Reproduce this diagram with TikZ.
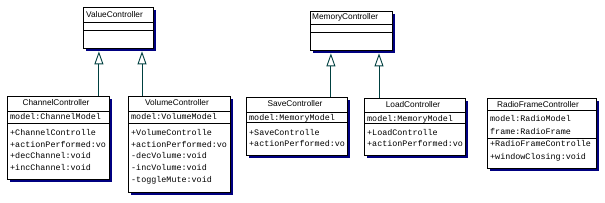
\documentclass[tikz,border=0pt]{standalone}
\usepackage{fontspec}
\setmainfont{Liberation Sans}
\setmonofont{Liberation Mono}
\usetikzlibrary{arrows.meta,shadows}
\definecolor{shadowblue}{RGB}{0,0,128}
\definecolor{linkteal}{RGB}{0,64,64}

\begin{document}
\begin{tikzpicture}[
    x=1pt, y=-1pt,
    cls/.style={draw, fill=white, line width=0.9pt, anchor=north west, inner sep=0pt,
      drop shadow={shadow xshift=2.5pt, shadow yshift=-2.5pt, fill=shadowblue, opacity=1}},
    title/.style={font=\fontsize{8.3}{10}\selectfont, inner sep=0pt, anchor=base},
    member/.style={font=\ttfamily\fontsize{8.4}{11.8}\selectfont, align=left, inner sep=0pt, anchor=base west},
    members/.style={member, anchor=north west},
    divider/.style={line width=0.9pt},
    inherit/.style={draw=linkteal, line width=0.9pt, -{Triangle[open, length=13pt, width=9pt]}, shorten >=2.5pt}
  ]
  \useasboundingbox (0,0) rectangle (605,203);

  % abstract controllers
  \node[cls, minimum width=70pt, minimum height=41pt] (value) at (83,7) {};
  \draw[divider] ([yshift=-15pt]value.north west) -- ([yshift=-15pt]value.north east);
  \draw[divider] ([yshift=-23pt]value.north west) -- ([yshift=-23pt]value.north east);
  \node[title, anchor=base west] (valuename) at (86,18) {ValueController};

  \node[cls, minimum width=82pt, minimum height=39pt] (memory) at (310,11) {};
  \draw[divider] ([yshift=-13pt]memory.north west) -- ([yshift=-13pt]memory.north east);
  \draw[divider] ([yshift=-21pt]memory.north west) -- ([yshift=-21pt]memory.north east);
  \node[title, anchor=base west] (memoryname) at (312,20) {MemoryController};

  % concrete controllers
  \node[cls, minimum width=102pt, minimum height=83pt] (channel) at (7,96) {};
  \draw[divider] ([yshift=-15pt]channel.north west) -- ([yshift=-15pt]channel.north east);
  \draw[divider] ([yshift=-27pt]channel.north west) -- ([yshift=-27pt]channel.north east);
  \node[title] (channelname) at (56,106) {ChannelController};
  \node[member] (channelattr) at (10,120) {model:ChannelModel};
  \node[members] (channelops) at (10,129) {+ChannelControlle\\+actionPerformed:vo\\+decChannel:void\\+incChannel:void};

  \node[cls, minimum width=102pt, minimum height=96pt] (volume) at (128,96) {};
  \draw[divider] ([yshift=-15pt]volume.north west) -- ([yshift=-15pt]volume.north east);
  \draw[divider] ([yshift=-27pt]volume.north west) -- ([yshift=-27pt]volume.north east);
  \node[title] (volumename) at (177,106) {VolumeController};
  \node[member] (volumeattr) at (131,120) {model:VolumeModel};
  \node[members] (volumeops) at (131,129) {+VolumeControlle\\+actionPerformed:vo\\-decVolume:void\\-incVolume:void\\-toggleMute:void};

  \node[cls, minimum width=101pt, minimum height=58pt] (save) at (246,97) {};
  \draw[divider] ([yshift=-15pt]save.north west) -- ([yshift=-15pt]save.north east);
  \draw[divider] ([yshift=-25pt]save.north west) -- ([yshift=-25pt]save.north east);
  \node[title] (savename) at (295,107) {SaveController};
  \node[member] (saveattr) at (249,121) {model:MemoryModel};
  \node[members, font=\ttfamily\fontsize{8.4}{11}\selectfont] (saveops) at (249,129) {+SaveControlle\\+actionPerformed:vo};

  \node[cls, minimum width=101pt, minimum height=57pt] (load) at (364,98) {};
  \draw[divider] ([yshift=-14pt]load.north west) -- ([yshift=-14pt]load.north east);
  \draw[divider] ([yshift=-25pt]load.north west) -- ([yshift=-25pt]load.north east);
  \node[title] (loadname) at (413,108) {LoadController};
  \node[member] (loadattr) at (367,122) {model:MemoryModel};
  \node[members, font=\ttfamily\fontsize{8.4}{11}\selectfont] (loadops) at (367,129) {+LoadControlle\\+actionPerformed:vo};

  \node[cls, minimum width=109pt, minimum height=70pt] (radio) at (487,98) {};
  \draw[divider] ([yshift=-12pt]radio.north west) -- ([yshift=-12pt]radio.north east);
  \draw[divider] ([yshift=-40pt]radio.north west) -- ([yshift=-40pt]radio.north east);
  \node[title] (radioname) at (538,108) {RadioFrameController};
  \node[members, font=\ttfamily\fontsize{8.4}{13}\selectfont] (radioattr) at (490,115) {model:RadioModel\\frame:RadioFrame};
  \node[members, font=\ttfamily\fontsize{8.4}{13}\selectfont] (radioops) at (490,140) {+RadioFrameControlle\\+windowClosing:void};

  % generalisation
  \coordinate (channelup) at ([xshift=-11pt]channel.north east);
  \coordinate (volumeup) at ([xshift=14pt]volume.north west);
  \coordinate (saveup) at ([xshift=-17pt]save.north east);
  \coordinate (loadup) at ([xshift=15pt]load.north west);
  \draw[inherit] (channelup) -- (channelup |- value.south);
  \draw[inherit] (volumeup) -- (volumeup |- value.south);
  \draw[inherit] (saveup) -- (saveup |- memory.south);
  \draw[inherit] (loadup) -- (loadup |- memory.south);
\end{tikzpicture}
\end{document}
